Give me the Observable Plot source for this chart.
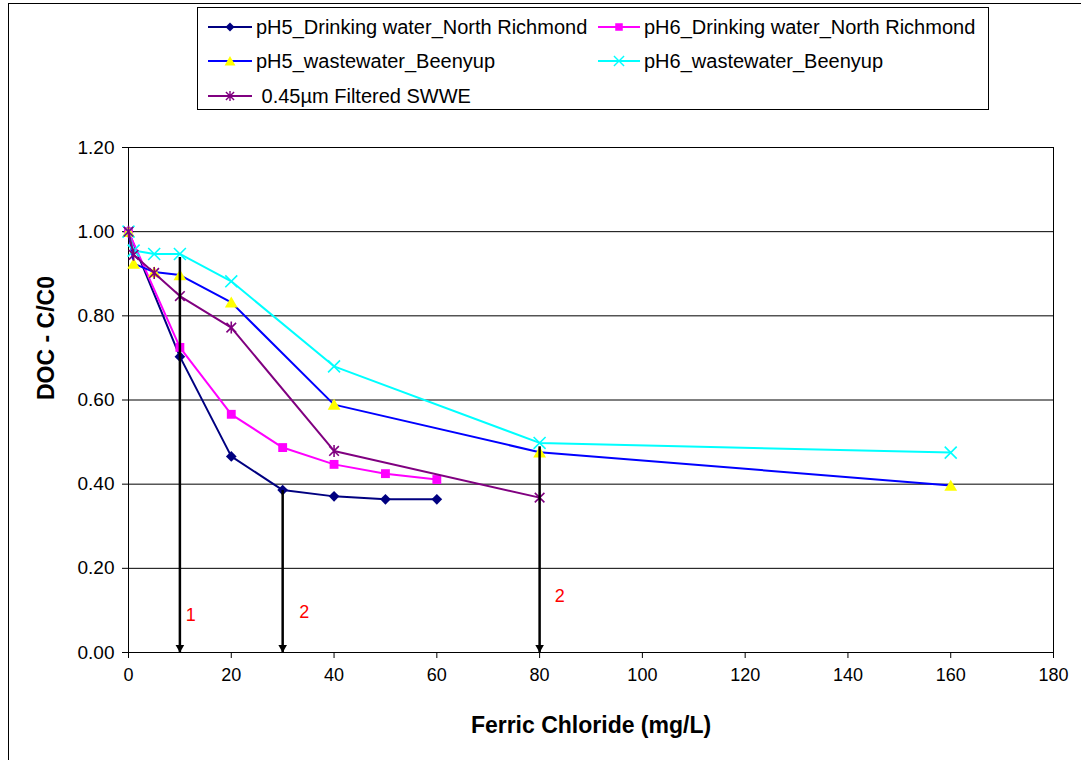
<!DOCTYPE html>
<html>
<head>
<meta charset="utf-8">
<script src="https://cdn.jsdelivr.net/npm/d3@7"></script>
<script src="https://cdn.jsdelivr.net/npm/@observablehq/plot@0.6"></script>
<style>
  html, body { margin: 0; padding: 0; background: #fff; }
  #wrap { position: relative; width: 1081px; height: 760px; overflow: hidden; background: #fff;
          font-family: "Liberation Sans", Arial, sans-serif; }
  #outer { position: absolute; left: 8px; top: 3px; width: 1200px; height: 900px; border: 1px solid #000; }
  #chart { position: absolute; left: 0; top: 0; }
  #legend { position: absolute; left: 197px; top: 7px; width: 790px; height: 101px;
            border: 1px solid #000; background: #fff; }
  .entry { position: absolute; display: flex; align-items: center; height: 24px; white-space: nowrap;
           font-size: 20px; color: #000; }
  .entry svg { display: block; margin-right: 4px; }
</style>
</head>
<body>
<div id="wrap">
  <div id="chart"></div>
  <div id="outer"></div>
  <div id="legend"></div>
</div>
<script>
// Ferric chloride dose (mg/L) for each test series
const doseDW = [0, 10, 20, 30, 40, 50, 60];
const doseWW = [0, 1, 5, 10, 20, 40, 80, 160];
const doseSWWE = [0, 1, 5, 10, 20, 40, 80];

// Residual DOC ratio C/C0
const pH5Drinking = [1.00, 0.703, 0.466, 0.386, 0.371, 0.364, 0.364];
const pH6Drinking = [1.00, 0.725, 0.566, 0.487, 0.447, 0.425, 0.411];
const pH5Waste = [1.00, 0.924, 0.904, 0.897, 0.832, 0.589, 0.476, 0.397];
const pH6Waste = [1.00, 0.955, 0.947, 0.947, 0.882, 0.680, 0.498, 0.475];
const filteredSWWE = [1.00, 0.945, 0.902, 0.847, 0.772, 0.479, 0.368];

const seriesNames = [
  "pH5_Drinking water_North Richmond",
  "pH6_Drinking water_North Richmond",
  "pH5_wastewater_Beenyup",
  "pH6_wastewater_Beenyup",
  " 0.45µm Filtered SWWE"
];

// Dose markers (arrows down to the axis) and their annotations
const arrowDose = [10, 30, 80];
const arrowTop = [0.94, 0.386, 0.49];
const noteDose = [12.1, 34.2, 83.9];
const noteLevel = [0.088, 0.095, 0.133];
const noteText = ["1", "2", "2"];

const xTicks = [0, 20, 40, 60, 80, 100, 120, 140, 160, 180];
const yTicks = [0, 0.2, 0.4, 0.6, 0.8, 1.0, 1.2];

// Spreadsheet-style star: an X crossed by a vertical bar
const star = {
  draw(context, size) {
    const r = Math.sqrt(size / Math.PI);
    const d = r * 0.8;
    context.moveTo(-d, -d); context.lineTo(d, d);
    context.moveTo(-d, d); context.lineTo(d, -d);
    context.moveTo(0, -r); context.lineTo(0, r);
  }
};

// Upward triangle centred on its bounding box
const triangleUp = {
  draw(context, size) {
    const r = Math.sqrt(size / Math.PI);
    context.moveTo(0, -r);
    context.lineTo(r * 1.1, r * 0.9);
    context.lineTo(-r * 1.1, r * 0.9);
    context.closePath();
  }
};

const series = [
  {dose: doseDW, value: pH5Drinking, line: "#000080", symbol: "diamond2", fill: "#000080", stroke: "none", r: 4.8},
  {dose: doseDW, value: pH6Drinking, line: "#FF00FF", symbol: "square", fill: "#FF00FF", stroke: "none", r: 5},
  {dose: doseWW, value: pH5Waste, line: "#0000FF", symbol: triangleUp, fill: "#FFFF00", stroke: "none", r: 5.8},
  {dose: doseWW, value: pH6Waste, line: "#00FFFF", symbol: "times", fill: "none", stroke: "#00FFFF", r: 5.5},
  {dose: doseSWWE, value: filteredSWWE, line: "#800080", symbol: star, fill: "none", stroke: "#800080", r: 6}
].map((s, i) => ({...s, name: seriesNames[i], rows: s.dose.map((d, j) => ({dose: d, value: s.value[j]}))}));

const marks = [
  Plot.gridY(yTicks, {stroke: "#000", strokeOpacity: 1, strokeWidth: 1}),
  Plot.frame({stroke: "#000", strokeWidth: 1}),
  Plot.axisX(xTicks, {tickSize: 6, tickPadding: 10, fontSize: 18, label: null}),
  Plot.axisY(yTicks, {tickSize: 6, tickPadding: 8, fontSize: 19, tickFormat: d => d.toFixed(2), label: null}),
  Plot.text(["Ferric Chloride (mg/L)"], {frameAnchor: "bottom", dy: 73, fontSize: 23, fontWeight: "bold", lineAnchor: "middle"}),
  Plot.text(["DOC - C/C0"], {frameAnchor: "left", dx: -82, rotate: -90, fontSize: 23, fontWeight: "bold", lineAnchor: "middle"})
];

for (const s of series) {
  marks.push(Plot.line(s.rows, {x: "dose", y: "value", stroke: s.line, strokeWidth: 2}));
  marks.push(Plot.dot(s.rows, {x: "dose", y: "value", symbol: () => s.symbol, r: s.r,
    fill: s.fill, stroke: s.stroke, strokeWidth: s.stroke === "none" ? 0 : 1.6}));
}

const idx = d3.range(arrowDose.length);
marks.push(
  Plot.link(idx, {x1: i => arrowDose[i], y1: i => arrowTop[i], x2: i => arrowDose[i], y2: () => 0,
    stroke: "#000", strokeWidth: 2.5}),
  Plot.dot(idx, {x: i => arrowDose[i], y: () => 0, symbol: "triangle", rotate: 180, r: 3.2,
    fill: "#000", stroke: "none", dy: -5}),
  Plot.text(idx, {x: i => noteDose[i], y: i => noteLevel[i], text: i => noteText[i],
    fill: "#FF0000", fontSize: 18, textAnchor: "middle", lineAnchor: "middle"})
);

const chart = Plot.plot({
  width: 1081,
  height: 760,
  marginLeft: 128,
  marginRight: 28,
  marginTop: 147,
  marginBottom: 108,
  x: {domain: [0, 180]},
  y: {domain: [0, 1.2]},
  symbol: {type: "identity"},
  style: {fontFamily: '"Liberation Sans", Arial, sans-serif', fontSize: "18px", color: "#000", background: "transparent"},
  marks
});
document.getElementById("chart").appendChild(chart);

// Legend: two columns, entries laid out row by row
const symbolTypes = {diamond2: d3.symbolDiamond2, square: d3.symbolSquare, times: d3.symbolTimes};
const legend = document.getElementById("legend");
const slots = [[10, 7], [400, 7], [10, 41], [400, 41], [10, 76]];
series.forEach((s, i) => {
  const el = document.createElement("div");
  el.className = "entry";
  el.style.left = slots[i][0] + "px";
  el.style.top = slots[i][1] + "px";
  const w = i % 2 === 0 ? 44 : 42;
  const svg = d3.create("svg").attr("width", w).attr("height", 20);
  svg.append("line").attr("x1", 0).attr("x2", w).attr("y1", 10).attr("y2", 10)
    .attr("stroke", s.line).attr("stroke-width", 2);
  const sym = typeof s.symbol === "string" ? symbolTypes[s.symbol] : s.symbol;
  const rr = s.r * 0.85;
  svg.append("path").attr("transform", `translate(${w / 2},10)`)
    .attr("d", d3.symbol(sym, Math.PI * rr * rr)())
    .attr("fill", s.fill).attr("stroke", s.stroke).attr("stroke-width", s.stroke === "none" ? 0 : 1.4);
  el.appendChild(svg.node());
  const t = document.createElement("span");
  t.textContent = s.name;
  t.style.whiteSpace = "pre";
  el.appendChild(t);
  legend.appendChild(el);
});
</script>
</body>
</html>
